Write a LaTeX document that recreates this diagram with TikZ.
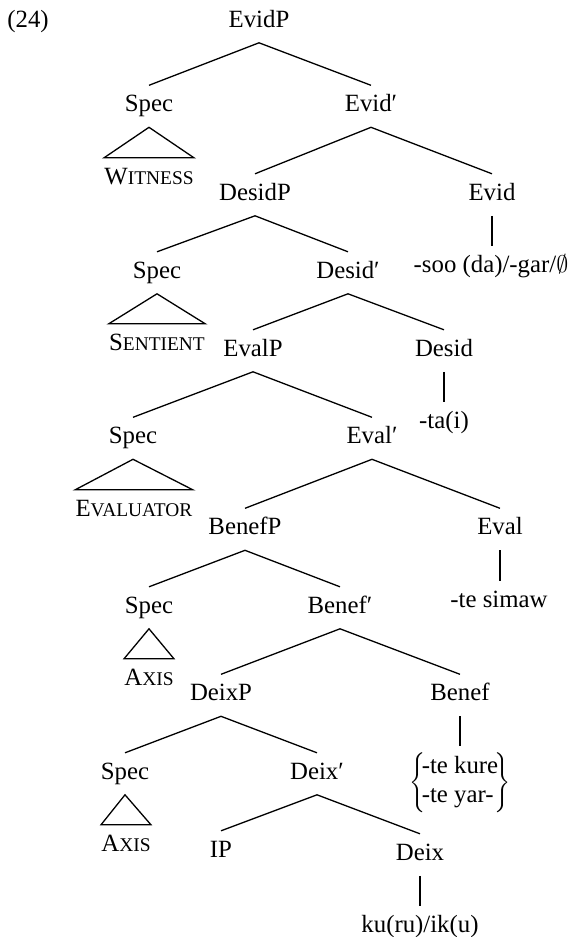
\documentclass[tikz,border=0pt]{standalone}
\usepackage{fontspec}
\setmainfont{Liberation Serif}
\newcommand{\fsc}[2]{#1{\fontsize{9.7}{11}\selectfont #2}}
\begin{document}
\begin{tikzpicture}[x=0.5pt,y=-0.5pt,
  lab/.style={anchor=base, inner xsep=0pt, inner ysep=4.7pt, text height=8.2pt, text depth=3pt, font=\fontsize{12.4}{14.5}\selectfont},
  edge/.style={line width=0.65pt}]
\useasboundingbox (0,0) rectangle (575,937);
\node[lab, anchor=base west] (ex) at (7,27) {(24)};
\node[lab] (evidp) at (259,27) {EvidP};
\node[lab] (spec1) at (149,111.5) {Spec};
\node[lab] (evidbar) at (371,111.5) {Evid′};
\node[lab] (wit) at (149,184) {\fsc{W}{ITNESS}};
\node[lab] (desidp) at (255,200) {DesidP};
\node[lab] (evid) at (492,200) {Evid};
\node[lab] (soo) at (491,272) {-soo (da)/-gar/$\emptyset$};
\node[lab] (spec2) at (157,278) {Spec};
\node[lab] (desidbar) at (348,278) {Desid′};
\node[lab] (sent) at (157,350) {\fsc{S}{ENTIENT}};
\node[lab] (evalp) at (253,356) {EvalP};
\node[lab] (desid) at (444,356) {Desid};
\node[lab] (tai) at (444,428) {-ta(i)};
\node[lab] (spec3) at (133,443.5) {Spec};
\node[lab] (evalbar) at (372,443.5) {Eval′};
\node[lab] (evalr) at (134,516) {\fsc{E}{VALUATOR}};
\node[lab] (benefp) at (245,534.5) {BenefP};
\node[lab] (eval) at (500,534.5) {Eval};
\node[lab] (simaw) at (499,607) {-te simaw};
\node[lab] (spec4) at (149,613) {Spec};
\node[lab] (benefbar) at (340,613) {Benef′};
\node[lab] (axis1) at (149,685) {\fsc{A}{XIS}};
\node[lab] (deixp) at (221,700.5) {DeixP};
\node[lab] (benef) at (460,700.5) {Benef};
\node[anchor=north, inner xsep=0pt, inner ysep=3pt, font=\fontsize{12.4}{14.5}\selectfont] (kure) at (460,746)
  {$\left\{\!\begin{tabular}{@{}l@{}}-te kure\\-te yar-\end{tabular}\!\right\}$};
\node[lab] (spec5) at (125,779) {Spec};
\node[lab] (deixbar) at (317,779) {Deix′};
\node[lab] (axis2) at (126,851) {\fsc{A}{XIS}};
\node[lab] (ip) at (221,857) {IP};
\node[lab] (deix) at (420,860) {Deix};
\node[lab] (kuru) at (420,932) {ku(ru)/ik(u)};
\begin{scope}[edge]
\draw (spec1.north) -- (evidp.south) -- (evidbar.north);
\draw (spec1.south) -- (wit.north west) -- (wit.north east) -- cycle;
\draw (desidp.north) -- (evidbar.south) -- (evid.north);
\draw (evid.south) -- (evid.south |- soo.north);
\draw (spec2.north) -- (desidp.south) -- (desidbar.north);
\draw (spec2.south) -- (sent.north west) -- (sent.north east) -- cycle;
\draw (evalp.north) -- (desidbar.south) -- (desid.north);
\draw (desid.south) -- (desid.south |- tai.north);
\draw (spec3.north) -- (evalp.south) -- (evalbar.north);
\draw (spec3.south) -- (evalr.north west) -- (evalr.north east) -- cycle;
\draw (benefp.north) -- (evalbar.south) -- (eval.north);
\draw (eval.south) -- (eval.south |- simaw.north);
\draw (spec4.north) -- (benefp.south) -- (benefbar.north);
\draw (spec4.south) -- (axis1.north west) -- (axis1.north east) -- cycle;
\draw (deixp.north) -- (benefbar.south) -- (benef.north);
\draw (benef.south) -- (kure.north);
\draw (spec5.north) -- (deixp.south) -- (deixbar.north);
\draw (spec5.south) -- (axis2.north west) -- (axis2.north east) -- cycle;
\draw (ip.north) -- (deixbar.south) -- (deix.north);
\draw (deix.south) -- (kuru.north);
\end{scope}
\end{tikzpicture}
\end{document}
